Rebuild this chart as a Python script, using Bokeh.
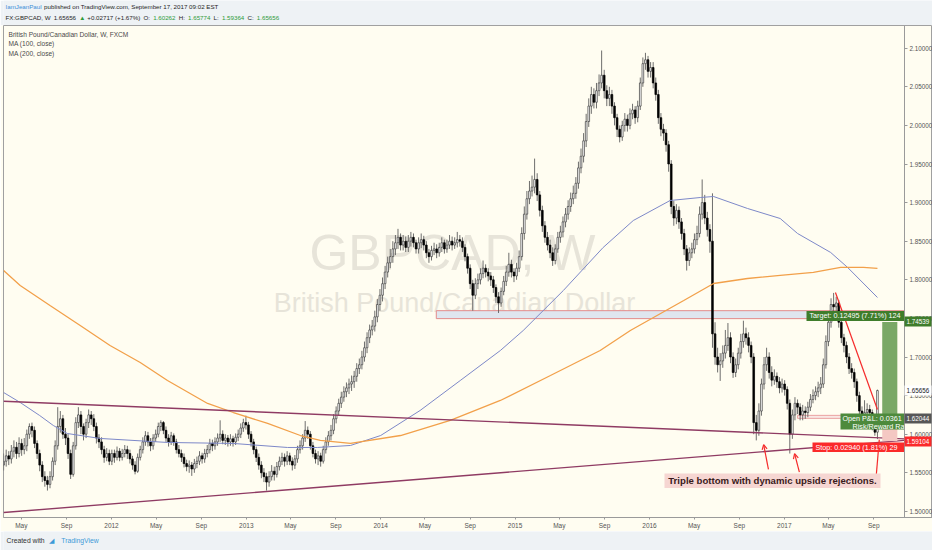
import numpy as np
import pandas as pd
from bokeh.plotting import figure
from bokeh.layouts import column
from bokeh.models import (Range1d, FixedTicker, NumeralTickFormatter, Label, Arrow, OpenHead,
                          LinearAxis)
from bokeh.core.properties import value
from bokeh.embed import file_html
from bokeh.resources import INLINE

# ------------------------------------------------------------------ data
SYMBOL = "GBPCAD"
INTERVAL = "W"
DESCRIPTION = "British Pound/Canadian Dollar"
WEEK_START = "2011-03-14"          # first weekly bar (Monday)
FIRST_OPEN = 1.560

CLOSE = [
 1.565,1.572,1.568,1.578,1.583,1.575,1.588,1.580,1.585,1.600,
 1.610,1.605,1.588,1.575,1.560,1.545,1.540,1.535,1.545,1.565,
 1.585,1.610,1.620,1.600,1.595,1.575,1.548,1.585,1.615,1.625,
 1.610,1.600,1.615,1.625,1.620,1.610,1.595,1.590,1.580,1.570,
 1.575,1.565,1.575,1.570,1.578,1.570,1.575,1.580,1.575,1.568,
 1.560,1.552,1.570,1.580,1.590,1.598,1.590,1.585,1.595,1.600,
 1.610,1.615,1.605,1.595,1.590,1.598,1.590,1.580,1.575,1.570,
 1.562,1.558,1.560,1.555,1.562,1.565,1.572,1.568,1.575,1.580,
 1.588,1.585,1.590,1.595,1.600,1.592,1.595,1.590,1.594,1.590,
 1.596,1.600,1.608,1.615,1.612,1.600,1.590,1.580,1.570,1.560,
 1.550,1.545,1.538,1.545,1.552,1.548,1.558,1.565,1.570,1.565,
 1.572,1.565,1.560,1.568,1.580,1.585,1.595,1.605,1.600,1.585,
 1.575,1.568,1.572,1.565,1.580,1.590,1.598,1.605,1.620,1.630,
 1.640,1.648,1.655,1.660,1.665,1.668,1.675,1.685,1.690,1.700,
 1.712,1.725,1.735,1.740,1.752,1.768,1.780,1.795,1.810,1.822,
 1.830,1.840,1.848,1.855,1.845,1.850,1.842,1.850,1.855,1.848,
 1.840,1.848,1.852,1.845,1.835,1.830,1.838,1.840,1.835,1.842,
 1.848,1.840,1.845,1.850,1.845,1.848,1.852,1.850,1.842,1.830,
 1.815,1.795,1.780,1.795,1.800,1.808,1.815,1.810,1.805,1.800,
 1.790,1.778,1.770,1.785,1.798,1.810,1.820,1.810,1.805,1.815,
 1.830,1.860,1.885,1.905,1.915,1.920,1.930,1.910,1.890,1.870,
 1.855,1.845,1.835,1.825,1.840,1.855,1.862,1.875,1.885,1.895,
 1.905,1.912,1.925,1.945,1.960,1.980,2.005,2.025,2.040,2.030,
 2.045,2.055,2.065,2.045,2.035,2.040,2.025,2.010,1.995,1.985,
 2.000,2.008,2.000,2.015,2.020,2.010,2.025,2.055,2.080,2.085,
 2.070,2.075,2.055,2.040,2.010,1.995,1.990,1.975,1.950,1.895,
 1.880,1.890,1.875,1.860,1.840,1.825,1.835,1.840,1.852,1.860,
 1.885,1.900,1.880,1.865,1.850,1.730,1.700,1.690,1.695,1.705,
 1.715,1.725,1.700,1.680,1.690,1.705,1.720,1.730,1.725,1.715,
 1.700,1.615,1.605,1.630,1.665,1.690,1.700,1.680,1.670,1.675,
 1.668,1.660,1.665,1.658,1.640,1.600,1.625,1.640,1.635,1.625,
 1.630,1.628,1.635,1.645,1.650,1.655,1.660,1.665,1.690,1.720,
 1.745,1.768,1.765,1.770,1.745,1.725,1.715,1.700,1.685,1.680,
 1.668,1.650,1.630,1.625,1.628,1.632,1.628,1.620,1.60262,1.65656]

HIGH = [
 1.575,1.580,1.578,1.586,1.592,1.590,1.596,1.594,1.595,1.606,
 1.614,1.615,1.610,1.592,1.580,1.565,1.552,1.546,1.552,1.570,
 1.592,1.635,1.630,1.625,1.608,1.600,1.580,1.590,1.622,1.635,
 1.630,1.614,1.620,1.632,1.630,1.626,1.615,1.600,1.596,1.585,
 1.582,1.580,1.580,1.580,1.584,1.582,1.581,1.586,1.585,1.580,
 1.572,1.565,1.575,1.585,1.596,1.604,1.603,1.595,1.600,1.606,
 1.615,1.618,1.617,1.610,1.600,1.603,1.601,1.594,1.586,1.580,
 1.575,1.567,1.566,1.564,1.568,1.571,1.578,1.576,1.581,1.586,
 1.594,1.593,1.596,1.601,1.618,1.605,1.600,1.599,1.600,1.598,
 1.601,1.606,1.614,1.620,1.624,1.616,1.604,1.594,1.584,1.575,
 1.565,1.556,1.550,1.552,1.560,1.558,1.564,1.571,1.576,1.575,
 1.578,1.576,1.570,1.573,1.585,1.592,1.600,1.617,1.610,1.604,
 1.590,1.580,1.578,1.576,1.585,1.596,1.604,1.612,1.626,1.636,
 1.646,1.655,1.662,1.667,1.672,1.676,1.682,1.692,1.698,1.708,
 1.720,1.732,1.742,1.748,1.760,1.775,1.788,1.803,1.818,1.830,
 1.840,1.850,1.858,1.866,1.860,1.858,1.856,1.858,1.862,1.860,
 1.852,1.855,1.860,1.857,1.850,1.840,1.844,1.848,1.846,1.848,
 1.855,1.852,1.852,1.858,1.856,1.855,1.862,1.858,1.855,1.846,
 1.834,1.820,1.800,1.802,1.808,1.815,1.825,1.820,1.815,1.810,
 1.805,1.794,1.784,1.790,1.805,1.818,1.835,1.826,1.815,1.822,
 1.838,1.868,1.895,1.915,1.928,1.935,1.957,1.938,1.915,1.896,
 1.876,1.862,1.852,1.842,1.846,1.862,1.870,1.882,1.893,1.903,
 1.913,1.922,1.933,1.953,1.970,1.990,2.015,2.035,2.050,2.048,
 2.055,2.066,2.097,2.072,2.052,2.050,2.046,2.030,2.015,2.000,
 2.006,2.016,2.014,2.022,2.028,2.025,2.032,2.062,2.088,2.094,
 2.090,2.082,2.082,2.062,2.046,2.016,2.002,1.995,1.980,1.955,
 1.902,1.898,1.895,1.880,1.866,1.845,1.842,1.848,1.860,1.870,
 1.895,1.930,1.910,1.888,1.872,1.912,1.745,1.712,1.705,1.715,
 1.735,1.744,1.732,1.706,1.698,1.712,1.730,1.747,1.738,1.732,
 1.720,1.705,1.625,1.640,1.672,1.700,1.712,1.706,1.688,1.684,
 1.680,1.674,1.672,1.670,1.662,1.645,1.632,1.648,1.645,1.640,
 1.638,1.636,1.642,1.652,1.658,1.662,1.668,1.674,1.698,1.728,
 1.755,1.776,1.783,1.778,1.774,1.750,1.730,1.720,1.705,1.692,
 1.685,1.672,1.655,1.636,1.644,1.640,1.638,1.632,1.625,1.65774]

LOW = [
 1.553,1.558,1.560,1.562,1.570,1.568,1.570,1.572,1.574,1.578,
 1.594,1.596,1.582,1.568,1.552,1.538,1.532,1.527,1.530,1.540,
 1.560,1.580,1.602,1.594,1.586,1.568,1.542,1.545,1.580,1.608,
 1.600,1.592,1.595,1.608,1.612,1.604,1.588,1.582,1.574,1.563,
 1.565,1.560,1.560,1.563,1.566,1.565,1.566,1.570,1.568,1.562,
 1.554,1.548,1.550,1.566,1.575,1.585,1.584,1.578,1.580,1.590,
 1.596,1.604,1.600,1.590,1.584,1.586,1.585,1.575,1.570,1.564,
 1.557,1.552,1.550,1.546,1.550,1.556,1.560,1.562,1.563,1.570,
 1.575,1.578,1.580,1.585,1.590,1.587,1.586,1.584,1.585,1.584,
 1.586,1.591,1.595,1.603,1.606,1.594,1.584,1.574,1.564,1.554,
 1.543,1.538,1.527,1.532,1.540,1.540,1.544,1.553,1.560,1.558,
 1.560,1.560,1.553,1.555,1.563,1.575,1.580,1.590,1.594,1.580,
 1.570,1.562,1.560,1.558,1.562,1.575,1.585,1.592,1.600,1.614,
 1.624,1.634,1.642,1.648,1.652,1.656,1.660,1.668,1.678,1.684,
 1.694,1.705,1.718,1.728,1.733,1.745,1.760,1.772,1.788,1.803,
 1.815,1.822,1.832,1.840,1.838,1.838,1.836,1.836,1.843,1.842,
 1.834,1.834,1.841,1.838,1.828,1.822,1.825,1.832,1.828,1.830,
 1.836,1.834,1.835,1.840,1.838,1.840,1.842,1.843,1.836,1.824,
 1.808,1.788,1.760,1.775,1.788,1.794,1.802,1.803,1.798,1.792,
 1.783,1.770,1.757,1.765,1.780,1.792,1.804,1.803,1.797,1.800,
 1.810,1.825,1.852,1.878,1.898,1.908,1.912,1.902,1.882,1.862,
 1.848,1.838,1.828,1.818,1.820,1.835,1.848,1.855,1.868,1.878,
 1.888,1.898,1.905,1.918,1.938,1.952,1.972,1.998,2.015,2.022,
 2.022,2.038,2.048,2.035,2.025,2.025,2.015,2.000,1.985,1.978,
 1.980,1.992,1.992,1.995,2.008,2.002,2.004,2.020,2.050,2.072,
 2.062,2.062,2.048,2.032,2.002,1.986,1.980,1.966,1.940,1.885,
 1.870,1.872,1.866,1.852,1.832,1.812,1.818,1.828,1.834,1.845,
 1.855,1.878,1.872,1.856,1.835,1.712,1.690,1.680,1.669,1.686,
 1.698,1.708,1.692,1.673,1.674,1.684,1.698,1.712,1.716,1.706,
 1.692,1.600,1.592,1.598,1.624,1.658,1.682,1.672,1.662,1.664,
 1.660,1.653,1.654,1.650,1.632,1.575,1.594,1.618,1.626,1.618,
 1.618,1.620,1.622,1.630,1.640,1.644,1.648,1.652,1.660,1.685,
 1.714,1.738,1.756,1.758,1.738,1.718,1.706,1.692,1.678,1.672,
 1.660,1.642,1.622,1.617,1.618,1.622,1.618,1.605,1.598,1.59364]

MA100_DATES = ["2011-03-14","2011-04-28","2011-06-20","2011-07-27","2011-09-03","2011-12-01",
               "2012-06-01","2012-11-27","2013-04-23","2013-07-13","2013-10-11","2014-01-01",
               "2014-04-18","2014-08-05","2014-11-22","2015-01-23","2015-05-12","2015-08-28",
               "2015-11-18","2016-02-26","2016-05-18","2016-06-23","2016-09-23","2016-12-21",
               "2017-02-06","2017-05-07","2017-06-22","2017-09-11"]
MA100 = [1.6540,1.6411,1.6242,1.6113,1.6009,1.5945,1.5893,1.5880,1.5828,1.5828,1.5854,1.5983,
         1.6307,1.6695,1.7084,1.7343,1.7861,1.8418,1.8768,1.9027,1.9066,1.9079,1.8924,1.8794,
         1.8600,1.8354,1.8160,1.7771]

MA200_DATES = ["2011-03-14","2011-04-28","2011-07-18","2011-10-08","2011-12-28","2012-03-19",
               "2012-06-01","2012-09-18","2012-11-27","2013-02-28","2013-05-28","2013-07-21",
               "2013-10-11","2014-02-24","2014-07-09","2014-11-22","2015-04-07","2015-08-20",
               "2015-11-10","2016-04-03","2016-06-23","2016-09-23","2016-12-21","2017-03-21",
               "2017-06-03","2017-08-04","2017-09-11"]
MA200 = [1.8120,1.7926,1.7667,1.7408,1.7149,1.6929,1.6695,1.6398,1.6281,1.6139,1.5983,1.5919,
         1.5880,1.5983,1.6178,1.6437,1.6760,1.7084,1.7343,1.7732,1.7952,1.8017,1.8056,1.8095,
         1.8160,1.8160,1.8147]

# drawings (anchor dates / prices)
UPPER_TREND_DATES = ["2011-03-14", "2017-11-23"]
UPPER_TREND = [1.6427, 1.5940]
LOWER_TREND_DATES = ["2011-03-14", "2017-11-23"]
LOWER_TREND = [1.4985, 1.5920]
RED_TREND_DATES = ["2017-05-20", "2017-09-11"]
RED_TREND = [1.7836, 1.6320]
RED_TICK_DATES = ["2017-09-08", "2017-09-16"]
RED_TICK = [1.5478, 1.5930]
ZONE_START = "2014-06-01"
ZONE_TOP, ZONE_BOTTOM = 1.7600, 1.7497
ENTRY_ZONE_START = "2017-02-06"
ENTRY_ZONE_TOP, ENTRY_ZONE_BOTTOM = 1.6244, 1.6205
POSITION_START, POSITION_END = "2017-09-24", "2017-11-04"
TARGET, ENTRY, STOP, LAST = 1.74539, 1.62044, 1.59104, 1.65656
ARROWS = [("2016-11-19", 1.5545, "2016-11-06", 1.5866),
          ("2017-02-11", 1.5510, "2017-01-29", 1.5748)]
NOTE = "Triple bottom with dynamic upside rejections."
# texts of the position tool as far as the pane shows them
TARGET_TEXT = "Target: 0.12495 (7.71%) 124"
PNL_TEXT = "Open P&L: 0.0361"
RR_TEXT = "Risk/Reward Ra"
STOP_TEXT = "Stop: 0.02940 (1.81%) 29"

TICK_DATES = ["2011-05-01","2011-09-01","2012-01-01","2012-05-01","2012-09-01","2013-01-01",
              "2013-05-01","2013-09-01","2014-01-01","2014-05-01","2014-09-01","2015-01-01",
              "2015-05-01","2015-09-01","2016-01-01","2016-05-01","2016-09-01","2017-01-01",
              "2017-05-01","2017-09-01"]
TICK_LABELS = ["May","Sep","2012","May","Sep","2013","May","Sep","2014","May","Sep","2015",
               "May","Sep","2016","May","Sep","2017","May","Sep"]
PRICE_TICKS = [1.50,1.55,1.60,1.65,1.70,1.75,1.80,1.85,1.90,1.95,2.00,2.05,2.10]

HEADER_USER = "IamJeanPaul"
HEADER_REST = "published on TradingView.com, September 17, 2017 09:02 EST"
HEADER2 = [("FX:GBPCAD, W", "d"), ("1.65656", "d"), ("\u25b2", "g"), ("+0.02717 (+1.67%)", "d"),
           ("O:", "d"), ("1.60262", "g"), ("H:", "d"), ("1.65774", "g"),
           ("L:", "d"), ("1.59364", "g"), ("C:", "d"), ("1.65656", "g")]
LEGEND = ["British Pound/Canadian Dollar, W, FXCM", "MA (100, close)", "MA (200, close)"]

# ------------------------------------------------------------------ layout helpers (page pixels)
DAY_MS = 86400000.0
def ms(d):
    return pd.Timestamp(d).value / 1e6
PX_PER_DAY = 134.5 / 365.25
def x_at(px):
    return ms("2012-01-01") + (px - 111.0) / PX_PER_DAY * DAY_MS
def y_at(py):
    return 2.10 - (py - 47.7) / 772.0
def py_of(price):
    return 47.7 + (2.10 - price) * 772.0

CREAM = "#fffdf1"
PAGE = "#eef2f5"
DARK = "#262626"
GREEN_TXT = "#2e9b3a"
RED = "#f52b2b"
FONT = "Liberation Sans"
PANE_RIGHT = 904          # price scale line

HEADER_H, MAIN_H, FOOTER_H = 25, 506, 19

# ------------------------------------------------------------------ main pane (frame spans the scale too)
p = figure(width=932, height=MAIN_H, output_backend="svg", toolbar_location=None, title=None,
           x_range=Range1d(x_at(3), x_at(932)), y_range=Range1d(y_at(517), y_at(25)),
           y_axis_location=None, min_border_left=3, min_border_right=0,
           min_border_top=0, min_border_bottom=14,
           background_fill_color=CREAM, border_fill_color=CREAM,
           outline_line_color="#a0a0a0")
p.grid.visible = False

p.xaxis.ticker = FixedTicker(ticks=[ms(d) for d in TICK_DATES])
p.xaxis.major_label_overrides = {ms(d): lab for d, lab in zip(TICK_DATES, TICK_LABELS)}
p.xaxis.axis_line_color = "#9a9a9a"
p.xaxis.major_tick_line_color = "#9a9a9a"
p.xaxis.major_tick_in = 0
p.xaxis.major_tick_out = 2
p.xaxis.minor_tick_in = 0
p.xaxis.minor_tick_out = 0
p.xaxis.major_label_text_font = FONT
p.xaxis.major_label_text_color = "#555555"
p.xaxis.major_label_text_font_size = "6.5px"
p.xaxis.major_label_standoff = 2

# price scale at the pane's right edge
price_axis = LinearAxis(ticker=FixedTicker(ticks=PRICE_TICKS),
                        formatter=NumeralTickFormatter(format="0.00000"),
                        fixed_location=x_at(PANE_RIGHT), axis_line_color="#9a9a9a",
                        major_tick_line_color="#9a9a9a", major_tick_in=0, major_tick_out=3,
                        minor_tick_line_color=None, major_label_standoff=2,
                        major_label_text_font=FONT, major_label_text_color="#555555",
                        major_label_text_font_size="6.3px")
p.add_layout(price_axis, "right")

# price tags on the scale: one single-tick axis each, the tick drawn as the tag box
for price, fg, bg in [(LAST, "#222222", "#ffffff"), (ENTRY, "#ffffff", "#575757"),
                      (STOP, "#ffffff", "#fb2a2a"), (TARGET, "#ffffff", "#3f7d2b")]:
    tag = LinearAxis(ticker=FixedTicker(ticks=[price]),
                     formatter=NumeralTickFormatter(format="0.00000"),
                     fixed_location=x_at(PANE_RIGHT), axis_line_color=None,
                     major_tick_line_color=bg, major_tick_line_width=10,
                     major_tick_in=0, major_tick_out=27, minor_tick_line_color=None,
                     major_label_standoff=-25, major_label_text_color=fg,
                     major_label_text_font=FONT, major_label_text_font_size="6.3px")
    p.add_layout(tag, "right")

# watermark
p.text(x=[x_at(452)], y=[y_at(252)], text=[f"{SYMBOL}, {INTERVAL}"], text_font=value(FONT),
       text_font_size="50px", text_color="#e7e4d9", text_align="center", text_baseline="middle")
p.text(x=[x_at(454)], y=[y_at(302)], text=[DESCRIPTION], text_font=value(FONT),
       text_font_size="27px", text_color="#e7e4d9", text_align="center", text_baseline="middle")

# resistance zone and entry band
p.quad(left=[ms(ZONE_START)], right=[x_at(PANE_RIGHT)], top=[ZONE_TOP], bottom=[ZONE_BOTTOM],
       fill_color="#dfe6ef", line_color="#e38b8b", line_width=1)
p.quad(left=[ms(ENTRY_ZONE_START)], right=[x_at(PANE_RIGHT)], top=[ENTRY_ZONE_TOP],
       bottom=[ENTRY_ZONE_BOTTOM], fill_color="#f9e8e4", line_color="#eba3a3", line_width=1)

# candles
dates = pd.date_range(WEEK_START, periods=len(CLOSE), freq="7D")
xs = dates.asi8 / 1e6
c = np.array(CLOSE)
o = np.array([FIRST_OPEN] + CLOSE[:-1])
h = np.array(HIGH)
l = np.array(LOW)
up = c >= o
dn = ~up
p.segment(x0=xs, y0=h, x1=xs, y1=l, line_color="#5e5e5e", line_width=0.9)
BAR_W = 4.6 * DAY_MS
p.vbar(x=xs[up], width=BAR_W, top=c[up], bottom=o[up], fill_color="#ffffff",
       line_color="#3c3c3c", line_width=0.7)
p.vbar(x=xs[dn], width=BAR_W, top=o[dn], bottom=c[dn], fill_color="#000000",
       line_color="#000000", line_width=0.7)

# moving averages
p.line([ms(d) for d in MA100_DATES], MA100, line_color="#7d88c8", line_width=1)
p.line([ms(d) for d in MA200_DATES], MA200, line_color="#f2a04a", line_width=1.3)

# trend lines
p.line([ms(d) for d in UPPER_TREND_DATES], UPPER_TREND, line_color="#8f3b63", line_width=1.4)
p.line([ms(d) for d in LOWER_TREND_DATES], LOWER_TREND, line_color="#8f3b63", line_width=1.4)
p.line([ms(d) for d in RED_TREND_DATES], RED_TREND, line_color=RED, line_width=1.2)
p.line([ms(d) for d in RED_TICK_DATES], RED_TICK, line_color=RED, line_width=1.2)

# long position tool
p.quad(left=[ms(POSITION_START)], right=[ms(POSITION_END)], top=[TARGET], bottom=[ENTRY],
       fill_color="#7aa866", line_color=None)
p.quad(left=[ms(POSITION_START)], right=[ms(POSITION_END)], top=[ENTRY], bottom=[STOP],
       fill_color="#f4c8c3", line_color=None)

def box(left, top, bottom, color):
    p.quad(left=[x_at(left)], right=[x_at(PANE_RIGHT)], top=[y_at(top)], bottom=[y_at(bottom)],
           fill_color=color, line_color=None)
def pane_text(px, py, text, size=7.2, color="#ffffff"):
    p.text(x=[x_at(px)], y=[y_at(py)], text=[text], text_font=value(FONT),
           text_font_size=f"{size}px", text_color=color, text_baseline="middle")

box(806, py_of(TARGET) - 11, py_of(TARGET) - 1, "#3f7d2b")
pane_text(809, py_of(TARGET) - 6, TARGET_TEXT)
box(840, py_of(ENTRY) - 5, py_of(ENTRY) + 11, "#4d8a3c")
pane_text(842, py_of(ENTRY) + 0.3, PNL_TEXT)
pane_text(852, py_of(ENTRY) + 7.8, RR_TEXT)
box(812, py_of(STOP) + 1.5, py_of(STOP) + 11, "#fb2a2a")
pane_text(815, py_of(STOP) + 6.2, STOP_TEXT)

# note
p.quad(left=[x_at(664)], right=[x_at(880)], top=[y_at(473)], bottom=[y_at(487.5)],
       fill_color="#f6d6d2", line_color=None)
p.add_layout(Label(x=x_at(772), y=y_at(480.3), text=NOTE, text_font=FONT, text_font_size="9.6px",
                   text_font_style="bold", text_color="#3a1b1b", text_align="center",
                   text_baseline="middle"))
for xs0, ys0, xe, ye in ARROWS:
    p.add_layout(Arrow(end=OpenHead(size=5, line_color=RED, line_width=1.2),
                       x_start=ms(xs0), y_start=ys0, x_end=ms(xe), y_end=ye,
                       line_color=RED, line_width=1.2))

# legend inside the pane
for i, t in enumerate(LEGEND):
    p.add_layout(Label(x=x_at(8), y=y_at(34 + 9.4 * i), text=t, text_font=FONT,
                       text_font_size="6.6px", text_color="#4a4a4a", text_baseline="middle"))

# ------------------------------------------------------------------ header and footer strips
def strip(height):
    f = figure(width=932, height=height, output_backend="svg", toolbar_location=None, title=None,
               x_range=Range1d(0, 932), y_range=Range1d(height, 0), min_border=0,
               background_fill_color=PAGE, border_fill_color=PAGE, outline_line_color=None)
    f.axis.visible = False
    f.grid.visible = False
    return f

def strip_label(f, px, py, text, size, color, bold=False):
    f.add_layout(Label(x=px, y=py, text=text, text_font=FONT, text_font_size=f"{size}px",
                       text_color=color, text_baseline="middle",
                       text_font_style="bold" if bold else "normal"))

# approximate Liberation Sans advance widths (em) to lay out the header pieces
CW = dict(zip("ABCDEFGHIJKLMNOPQRSTUVWXYZ",
              [.667,.667,.722,.722,.667,.611,.778,.722,.278,.5,.667,.556,.833,.722,.778,.667,
               .778,.722,.667,.611,.722,.667,.944,.667,.667,.611]))
CW.update(zip("abcdefghijklmnopqrstuvwxyz",
              [.556,.556,.5,.556,.556,.278,.556,.556,.222,.222,.5,.222,.833,.556,.556,.556,
               .556,.333,.5,.278,.556,.5,.722,.5,.5,.5]))
CW.update({ch: 0.556 for ch in "0123456789"})
CW.update({".": 0.278, ",": 0.278, ":": 0.278, " ": 0.278, "(": 0.333, ")": 0.333,
           "+": 0.584, "%": 0.889, "/": 0.278, "-": 0.333, "&": 0.667, "\u25b2": 0.8})
def tw(s, size):
    return sum(CW.get(ch, 0.6) for ch in s) * size

header = strip(HEADER_H)
HS = 6.2
strip_label(header, 2, 6, HEADER_USER, HS, "#3d8fd8")
strip_label(header, 2 + tw(HEADER_USER, HS) + 2.5, 6, HEADER_REST, HS, DARK)
cx = 2.0
for t, kind in HEADER2:
    strip_label(header, cx, 17, t, HS, GREEN_TXT if kind == "g" else DARK)
    cx += tw(t, HS) + 3.2

footer = strip(FOOTER_H)
strip_label(footer, 3, 9, "Created with", 6.8, "#333333")
strip_label(footer, 46, 9, "\u25e2", 7, "#3d9ad8")
strip_label(footer, 58, 9, "TradingView", 6.8, "#3d9ad8")

layout = column(header, p, footer, spacing=0)
open("out.html", "w").write(file_html(layout, INLINE))
